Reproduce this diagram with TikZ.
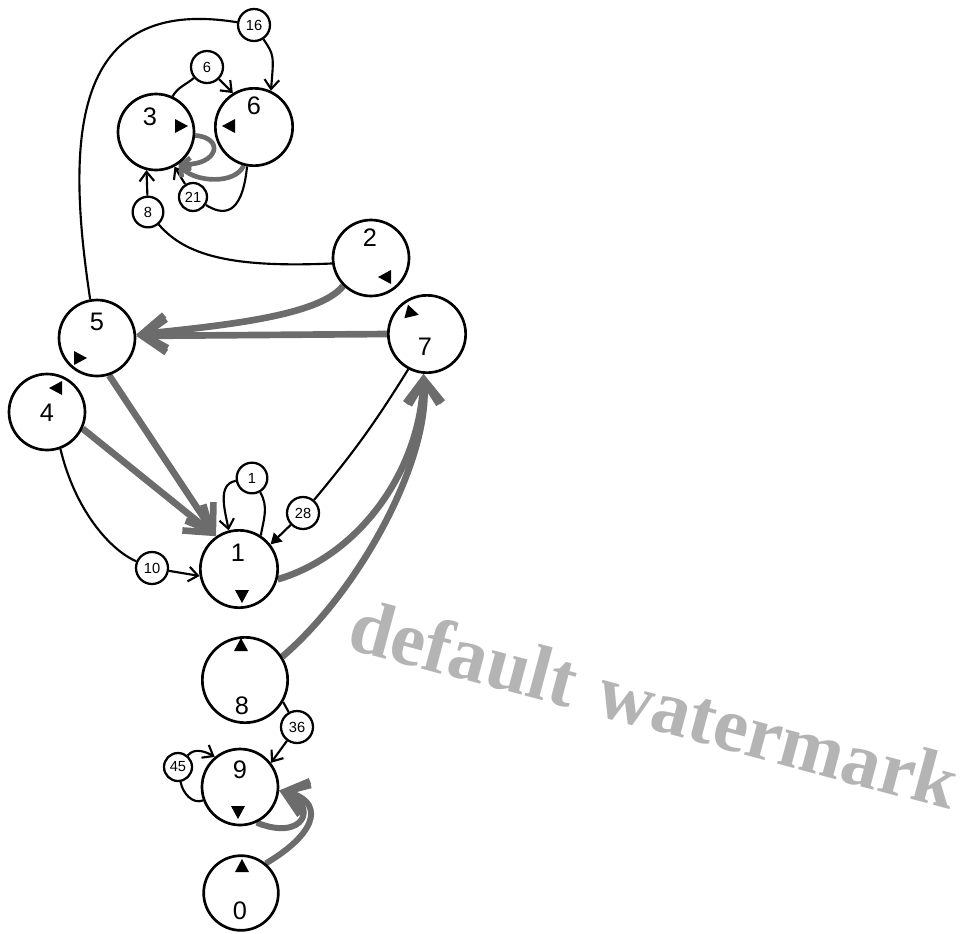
\documentclass[tikz,border=0pt]{standalone}
\usepackage{fontspec}
\setmainfont{Liberation Sans}
\newfontfamily\wmfont{Liberation Serif}
\usetikzlibrary{arrows.meta,calc}
\pgfdeclarelayer{bg}
\pgfsetlayers{bg,main}
\definecolor{edgegray}{RGB}{108,108,108}
\definecolor{wmgray}{RGB}{180,180,180}
\newcommand\tri[3]{\fill[shift={(#1,#2)}, rotate=#3] (7,0) -- (-6,7) -- (-6,-7) -- cycle;}
\begin{document}
\begin{tikzpicture}[x=0.75pt,y=-0.75pt,
  state/.style={circle, draw, line width=2pt, minimum size=57pt, inner sep=0pt, fill=white},
  wlabel/.style={circle, draw, line width=1.7pt, minimum size=24pt, inner sep=0pt, fill=white, font=\fontsize{11}{11}\selectfont},
  numtext/.style={font=\fontsize{19}{19}\selectfont, inner sep=0pt},
  plain/.style={line width=1.6pt},
  thinedge/.style={line width=1.6pt, -{Straight Barb[length=7pt,width=11pt]}},
  filledge/.style={line width=1.6pt, -{Triangle[length=8pt,width=9pt]}},
  heavy/.style={draw=edgegray, line width=5pt, -{Straight Barb[length=18pt,width=25pt]}},
  medgray/.style={draw=edgegray, line width=4.5pt, -{Straight Barb[length=17pt,width=24pt]}},
  smallgray/.style={draw=edgegray, line width=3.5pt, -{Straight Barb[length=6pt,width=10pt]}}
]
\useasboundingbox (0,0) rectangle (967,933);

% watermark
\node[font=\wmfont\bfseries\fontsize{58}{58}\selectfont, text=wmgray, rotate=-15, anchor=base west, inner sep=0pt] (wm) at (345,648) {default\hspace{4pt} watermark};

% states
\node[state] (n3) at (156,132) {};
\node[state, minimum size=58pt] (n6) at (254,127) {};
\node[state] (n2) at (371,258) {};
\node[state] (n5) at (97,338) {};
\node[state, minimum size=58pt] (n7) at (427,334) {};
\node[state] (n4) at (47,412) {};
\node[state, minimum size=58pt] (n1) at (239,569) {};
\node[state, minimum size=64pt] (n8) at (245,680) {};
\node[state] (n9) at (240,787) {};
\node[state, minimum size=56pt] (n0) at (241,893) {};

% state numbers
\node[numtext] (t3) at (150,117) {3};
\node[numtext] (t6) at (254,106) {6};
\node[numtext] (t2) at (370,238) {2};
\node[numtext] (t5) at (97,322) {5};
\node[numtext] (t7) at (425,347) {7};
\node[numtext] (t4) at (47,413) {4};
\node[numtext] (t1) at (238,553) {1};
\node[numtext] (t8) at (242,706) {8};
\node[numtext] (t9) at (240,770) {9};
\node[numtext] (t0) at (240,911) {0};

% weight labels
\node[wlabel] (l16) at (254,25) {16};
\node[wlabel] (l6) at (207,67) {6};
\node[wlabel, minimum size=21pt] (l21) at (193,197) {21};
\node[wlabel, minimum size=23pt] (l8) at (148,212) {8};
\node[wlabel] (l28) at (303,513) {28};
\node[wlabel, minimum size=23pt] (l1) at (252,478) {1};
\node[wlabel] (l10) at (152,568) {10};
\node[wlabel] (l36) at (297,727) {36};
\node[wlabel, minimum size=21pt] (l45) at (178,767) {45};

% triangles
\tri{181}{126}{0}
\tri{229}{126}{180}
\tri{385}{277}{180}
\tri{80}{358}{0}
\tri{412}{313}{-15}
\tri{56}{388}{180}
\tri{242}{596}{-90}
\tri{241}{645}{90}
\tri{238}{812}{-90}
\tri{242}{866}{90}

\begin{pgfonlayer}{bg}
% black edges
\draw[plain] (n5.100) .. controls (66,140) and (70,-5) .. (l16);
\draw[thinedge] (l16) .. controls (274,55) .. (n6.65);
\draw[plain] (n3.65) to[out=60,in=220] (l6);
\draw[thinedge] (l6) -- (n6.122);
\draw[plain] (n6.-100) .. controls (242,218) and (222,215) .. (l21);
\draw[thinedge] (l21) -- (n3.-62);
\draw[plain] (n2.188) .. controls (230,268) and (185,255) .. (l8);
\draw[thinedge] (l8) -- (n3.-104);
\draw[plain] (n7.-118) to[bend left=4] (l28);
\draw[filledge] (l28) -- (n1.38);
\draw[plain] (n4.-70) .. controls (75,510) and (110,550) .. (l10);
\draw[thinedge] (l10) -- (n1.190);
\draw[plain] (n1.57) to[out=80,in=-60] (l1);
\draw[thinedge] (l1) to[out=190,in=100] (n1.105);
\draw[plain] (n8.-30) -- (l36);
\draw[thinedge] (l36) -- (n9.38);
\draw[plain] (n9.200) to[out=200,in=-80] (l45);
\draw[thinedge] (l45) to[out=50,in=150] (n9.130);

% gray edges
\draw[heavy] (n2.-135) .. controls (320,315) and (230,325) .. (n5.5);
\draw[heavy] (n7.west) -- (n5.3);
\draw[heavy] (n5.-72) -- (n1.125);
\draw[heavy] (n4.-25) -- (n1.125);
\draw[heavy] (n1.-15) .. controls (360,555) and (420,470) .. (n7.-95);
\draw[heavy] (n8.32) .. controls (360,590) and (430,460) .. (n7.-95);
\draw[medgray] (n9.-65) .. controls (305,842) and (318,805) .. (n9.-5);
\draw[medgray] (n0.50) .. controls (322,830) and (322,800) .. (n9.-5);
\draw[smallgray] (n3.-5) .. controls (225,138) and (218,165) .. (n3.-55);
\draw[smallgray] (n6.-105) .. controls (235,185) and (195,182) .. (n3.-55);
\end{pgfonlayer}
\end{tikzpicture}
\end{document}
